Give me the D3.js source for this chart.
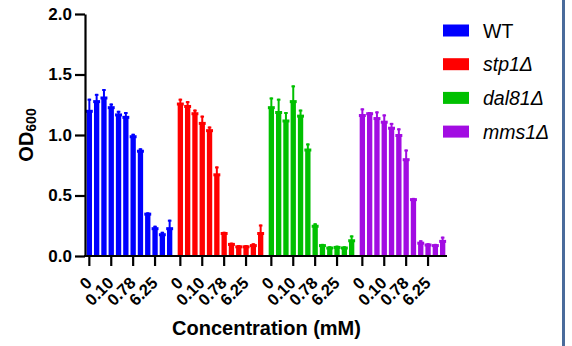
<!DOCTYPE html>
<html>
<head>
<meta charset="utf-8">
<script src="https://cdn.jsdelivr.net/npm/d3@7"></script>
<style>
  body { margin: 0; background: #fff; }
  svg { display: block; font-family: "Liberation Sans", Arial, sans-serif; }
</style>
</head>
<body>
<div class="chart"></div>
<script>
(function() {
  // concentrations (mM), 2-fold dilution series
  var concentrations = ["0", "0.024", "0.049", "0.10", "0.20", "0.39", "0.78", "1.56", "3.13", "6.25", "12.5", "25"];
  var labelledConcentrations = ["0", "0.10", "0.78", "6.25"];
  var strains = ["WT", "stp1Δ", "dal81Δ", "mms1Δ"];
  var yTicks = [0, 0.5, 1.0, 1.5, 2.0];

  // OD600 means and SD (upper error) per strain
  var wtMean    = [1.20, 1.28, 1.31, 1.23, 1.17, 1.15, 0.99, 0.87, 0.35, 0.23, 0.18, 0.23];
  var wtSd      = [0.10, 0.06, 0.07, 0.03, 0.03, 0.04, 0.02, 0.02, 0.01, 0.02, 0.02, 0.07];
  var stp1Mean  = [1.26, 1.24, 1.18, 1.10, 1.04, 0.675, 0.19, 0.10, 0.08, 0.08, 0.09, 0.19];
  var stp1Sd    = [0.04, 0.04, 0.03, 0.06, 0.03, 0.065, 0.01, 0.01, 0.01, 0.01, 0.015, 0.07];
  var dal81Mean = [1.23, 1.19, 1.12, 1.28, 1.16, 0.88, 0.25, 0.09, 0.07, 0.075, 0.07, 0.13];
  var dal81Sd   = [0.08, 0.11, 0.07, 0.13, 0.05, 0.05, 0.02, 0.01, 0.01, 0.01, 0.01, 0.04];
  var mms1Mean  = [1.165, 1.18, 1.14, 1.11, 1.06, 1.00, 0.80, 0.47, 0.11, 0.095, 0.09, 0.125];
  var mms1Sd    = [0.055, 0.01, 0.055, 0.06, 0.04, 0.055, 0.08, 0.01, 0.02, 0.01, 0.01, 0.035];

  var means = [wtMean, stp1Mean, dal81Mean, mms1Mean];
  var sds = [wtSd, stp1Sd, dal81Sd, mms1Sd];

  var width = 572, height = 346;
  var plot = { left: 85, right: 447, top: 14, bottom: 256 };

  var svg = d3.select(".chart").append("svg")
    .attr("width", width)
    .attr("height", height);

  var color = d3.scaleOrdinal().domain(strains)
    .range(["#0000ff", "#ff0000", "#00c000", "#a20ce2"]);

  var x0 = d3.scaleBand().domain(strains)
    .range([plot.left, plot.right])
    .paddingInner(0.022).paddingOuter(0);
  var x1 = d3.scaleBand().domain(concentrations)
    .range([0, x0.bandwidth()])
    .paddingInner(0.27).paddingOuter(0.23);
  var y = d3.scaleLinear().domain([0, 2]).range([plot.bottom, plot.top]);

  var bars = [];
  strains.forEach(function(s, i) {
    concentrations.forEach(function(c, j) {
      bars.push({ strain: s, conc: c, mean: means[i][j], sd: sds[i][j] });
    });
  });

  var bw = x1.bandwidth();
  function cx(d) { return x0(d.strain) + x1(d.conc) + bw / 2; }

  var gb = svg.append("g").attr("class", "bars")
    .selectAll("g")
      .data(bars)
    .enter().append("g")
      .attr("fill", function(d) { return color(d.strain); })
      .attr("stroke", function(d) { return color(d.strain); });

  gb.append("rect")
    .attr("stroke", "none")
    .attr("x", function(d) { return cx(d) - bw / 2; })
    .attr("y", function(d) { return y(d.mean); })
    .attr("width", bw)
    .attr("height", function(d) { return y(0) - y(d.mean); });

  // wider lip at the mean
  gb.append("rect")
    .attr("stroke", "none")
    .attr("x", function(d) { return cx(d) - bw / 2 - 0.8; })
    .attr("y", function(d) { return y(d.mean) - 1; })
    .attr("width", bw + 1.6)
    .attr("height", 3);

  // error bars
  gb.append("line")
    .attr("stroke-width", 2)
    .attr("x1", cx).attr("x2", cx)
    .attr("y1", function(d) { return y(d.mean); })
    .attr("y2", function(d) { return y(d.mean + d.sd); });
  gb.append("line")
    .attr("stroke-width", 2)
    .attr("x1", function(d) { return cx(d) - 1.8; })
    .attr("x2", function(d) { return cx(d) + 1.8; })
    .attr("y1", function(d) { return y(d.mean + d.sd) + 1; })
    .attr("y2", function(d) { return y(d.mean + d.sd) + 1; });

  // y axis
  var yAxis = d3.axisLeft(y)
    .tickValues(yTicks)
    .tickFormat(d3.format(".1f"))
    .tickSize(10)
    .tickSizeOuter(0)
    .tickPadding(3);
  var gy = svg.append("g")
    .attr("transform", "translate(" + plot.left + ",0)")
    .call(yAxis);
  gy.select(".domain").attr("stroke-width", 2.2);
  gy.selectAll(".tick line").attr("stroke-width", 2.2);
  gy.selectAll(".tick text")
    .attr("font-size", 17)
    .attr("font-weight", "bold")
    .attr("fill", "#000")
    .attr("font-family", "Liberation Sans, Arial, sans-serif");

  // x axis
  svg.append("line")
    .attr("x1", plot.left - 1).attr("x2", plot.right)
    .attr("y1", y(0)).attr("y2", y(0))
    .attr("stroke", "#000").attr("stroke-width", 2.2);

  var xticks = [];
  strains.forEach(function(s) {
    labelledConcentrations.forEach(function(c) {
      xticks.push({ strain: s, conc: c, mean: 0 });
    });
  });

  var gx = svg.append("g").attr("class", "axis x")
    .selectAll("g")
      .data(xticks)
    .enter().append("g")
      .attr("transform", function(d) { return "translate(" + cx(d) + "," + y(0) + ")"; });
  gx.append("line")
    .attr("y2", 10)
    .attr("stroke", "#000")
    .attr("stroke-width", 2.2);
  gx.append("text")
    .attr("transform", "translate(-0.5,24) rotate(-45)")
    .attr("text-anchor", "end")
    .attr("dy", "0.35em")
    .attr("font-size", 16.5)
    .attr("font-weight", "bold")
    .text(function(d) { return d.conc; });

  // axis titles
  svg.append("text")
    .attr("x", (plot.left + plot.right) / 2 + 0.5)
    .attr("y", 335)
    .attr("text-anchor", "middle")
    .attr("font-size", 20)
    .attr("font-weight", "bold")
    .text("Concentration (mM)");

  var yt = svg.append("text")
    .attr("transform", "translate(33,135) rotate(-90)")
    .attr("text-anchor", "middle")
    .attr("font-size", 20)
    .attr("font-weight", "bold");
  yt.append("tspan").text("OD");
  yt.append("tspan").attr("font-size", 14).attr("dy", 3).text("600");

  // legend
  var lg = svg.append("g").attr("class", "legend")
    .selectAll("g")
      .data(strains)
    .enter().append("g")
      .attr("transform", function(d, i) { return "translate(443," + (30.5 + i * 33.7) + ")"; });
  lg.append("rect")
    .attr("y", -6)
    .attr("width", 26)
    .attr("height", 12)
    .attr("fill", function(d) { return color(d); });
  lg.append("text")
    .attr("x", 40)
    .attr("dy", "0.36em")
    .attr("font-size", 19.5)
    .attr("font-style", function(d, i) { return i ? "italic" : null; })
    .text(function(d) { return d; });

  // frame edge on the right
  svg.append("rect")
    .attr("x", 562).attr("y", 0)
    .attr("width", 3).attr("height", height)
    .attr("fill", "#4a6b9b");
})();
</script>
</body>
</html>
